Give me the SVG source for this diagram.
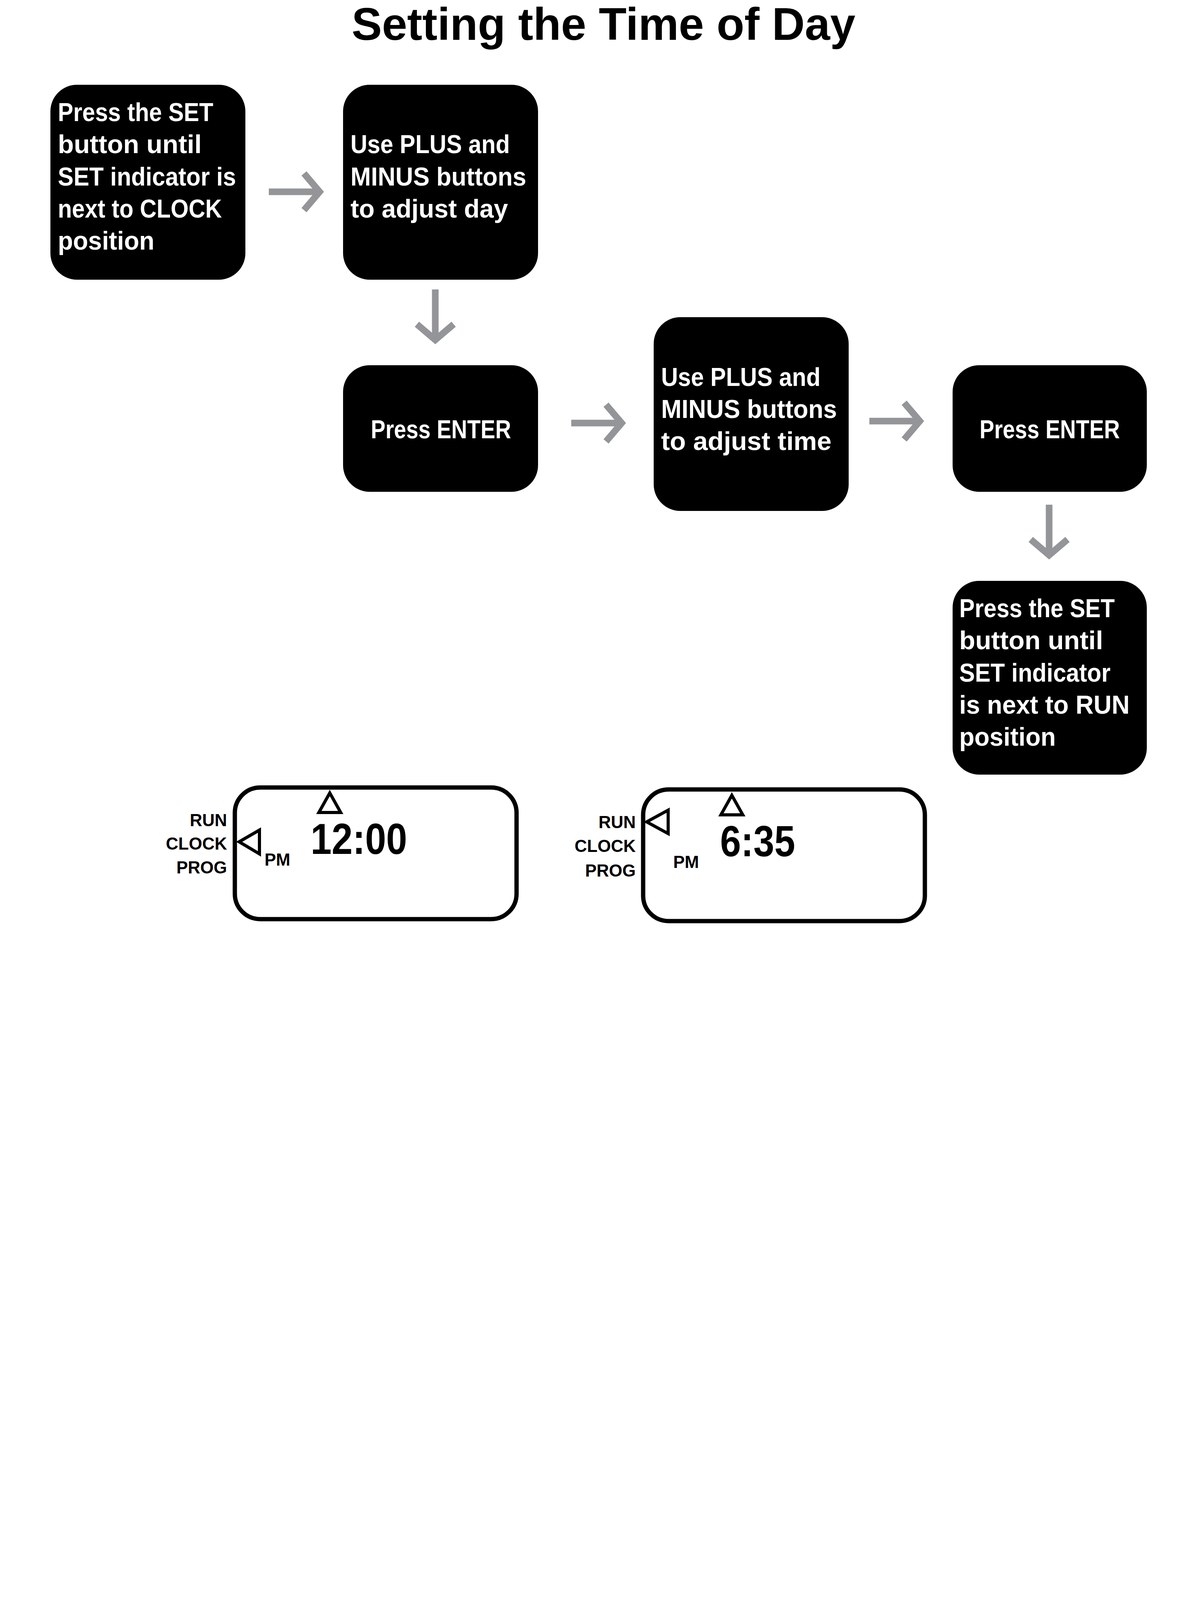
<svg xmlns="http://www.w3.org/2000/svg" width="3043" height="4305" viewBox="0 0 3043 4305">
<style>
.bx{fill:#000}
.t{font-family:"Liberation Sans",Arial,sans-serif;font-weight:bold;fill:#fff;font-size:66px}
.lcd{fill:none;stroke:#000;stroke-width:11}
.ptr{fill:none;stroke:#000;stroke-width:8;stroke-linejoin:miter}
.lb{font-family:"Liberation Sans",Arial,sans-serif;font-weight:bold;fill:#000;font-size:44px}
.dig{font-family:"Liberation Sans",Arial,sans-serif;font-weight:bold;fill:#000;font-size:112px}
.ar{fill:none;stroke:#939598;stroke-width:17}
</style>
<rect width="3043" height="4305" fill="#fff"/>
<text x="900" y="102" textLength="1289" lengthAdjust="spacingAndGlyphs" style="font-family:'Liberation Sans',Arial,sans-serif;font-weight:bold;font-size:116px">Setting the Time of Day</text>

<g id="n1"><rect class="bx" x="129" y="217" width="499" height="499" rx="68"/>
<text class="t"><tspan x="148" y="310" textLength="398" lengthAdjust="spacingAndGlyphs">Press the SET</tspan><tspan x="148" y="392" textLength="368" lengthAdjust="spacingAndGlyphs">button until</tspan><tspan x="148" y="475" textLength="456" lengthAdjust="spacingAndGlyphs">SET indicator is</tspan><tspan x="148" y="557" textLength="420" lengthAdjust="spacingAndGlyphs">next to CLOCK</tspan><tspan x="148" y="639" textLength="247" lengthAdjust="spacingAndGlyphs">position</tspan></text></g>

<g id="n2"><rect class="bx" x="878" y="217" width="499" height="499" rx="68"/>
<text class="t"><tspan x="897" y="392" textLength="408" lengthAdjust="spacingAndGlyphs">Use PLUS and</tspan><tspan x="897" y="475" textLength="450" lengthAdjust="spacingAndGlyphs">MINUS buttons</tspan><tspan x="897" y="557" textLength="403" lengthAdjust="spacingAndGlyphs">to adjust day</tspan></text></g>

<g id="n3"><rect class="bx" x="878" y="935" width="499" height="324" rx="68"/>
<text class="t" x="949" y="1122" textLength="359" lengthAdjust="spacingAndGlyphs">Press ENTER</text></g>

<g id="n4"><rect class="bx" x="1673" y="812" width="499" height="496" rx="68"/>
<text class="t"><tspan x="1692" y="988" textLength="408" lengthAdjust="spacingAndGlyphs">Use PLUS and</tspan><tspan x="1692" y="1070" textLength="450" lengthAdjust="spacingAndGlyphs">MINUS buttons</tspan><tspan x="1692" y="1152" textLength="436" lengthAdjust="spacingAndGlyphs">to adjust time</tspan></text></g>

<g id="n5"><rect class="bx" x="2438" y="935" width="497" height="324" rx="68"/>
<text class="t" x="2507" y="1122" textLength="359" lengthAdjust="spacingAndGlyphs">Press ENTER</text></g>

<g id="n6"><rect class="bx" x="2438" y="1487" width="497" height="496" rx="68"/>
<text class="t"><tspan x="2455" y="1580" textLength="398" lengthAdjust="spacingAndGlyphs">Press the SET</tspan><tspan x="2455" y="1662" textLength="368" lengthAdjust="spacingAndGlyphs">button until</tspan><tspan x="2455" y="1745" textLength="387" lengthAdjust="spacingAndGlyphs">SET indicator</tspan><tspan x="2455" y="1827" textLength="436" lengthAdjust="spacingAndGlyphs">is next to RUN</tspan><tspan x="2455" y="1909" textLength="247" lengthAdjust="spacingAndGlyphs">position</tspan></text></g>

<g id="connectors">
<path class="ar" d="M688 491H818M778 444L818 491L778 538"/>
<path class="ar" d="M1114 741V870M1067 830L1114 870L1161 830"/>
<path class="ar" d="M1462 1083H1591M1551 1036L1591 1083L1551 1130"/>
<path class="ar" d="M2225 1078H2354M2314 1031L2354 1078L2314 1125"/>
<path class="ar" d="M2685 1292V1421M2638 1381L2685 1421L2732 1381"/>
</g>

<g id="lcd1">
<rect class="lcd" x="601" y="2016" width="721" height="337" rx="65"/>
<text class="lb" x="581" y="2115" text-anchor="end">RUN</text>
<text class="lb" x="581" y="2175" text-anchor="end">CLOCK</text>
<text class="lb" x="581" y="2236" text-anchor="end">PROG</text>
<path class="ptr" d="M612 2155L664 2125V2186Z"/>
<path class="ptr" d="M844 2030L816 2080H872Z"/>
<text class="lb" x="677" y="2216">PM</text>
<text class="dig" x="795" y="2186" textLength="247" lengthAdjust="spacingAndGlyphs">12:00</text>
</g>

<g id="lcd2">
<rect class="lcd" x="1646" y="2021" width="721" height="337" rx="65"/>
<text class="lb" x="1627" y="2120" text-anchor="end">RUN</text>
<text class="lb" x="1627" y="2181" text-anchor="end">CLOCK</text>
<text class="lb" x="1627" y="2244" text-anchor="end">PROG</text>
<path class="ptr" d="M1655 2104L1710 2074V2134Z"/>
<path class="ptr" d="M1873 2036L1845 2086H1901Z"/>
<text class="lb" x="1723" y="2222">PM</text>
<text class="dig" x="1843" y="2192" textLength="192" lengthAdjust="spacingAndGlyphs">6:35</text>
</g>

<rect x="129" y="4188" width="2833" height="45" fill="#000"/>
<text x="2990" y="4232" style="font-family:'Liberation Sans',Arial,sans-serif;font-size:60px">5</text>
</svg>
